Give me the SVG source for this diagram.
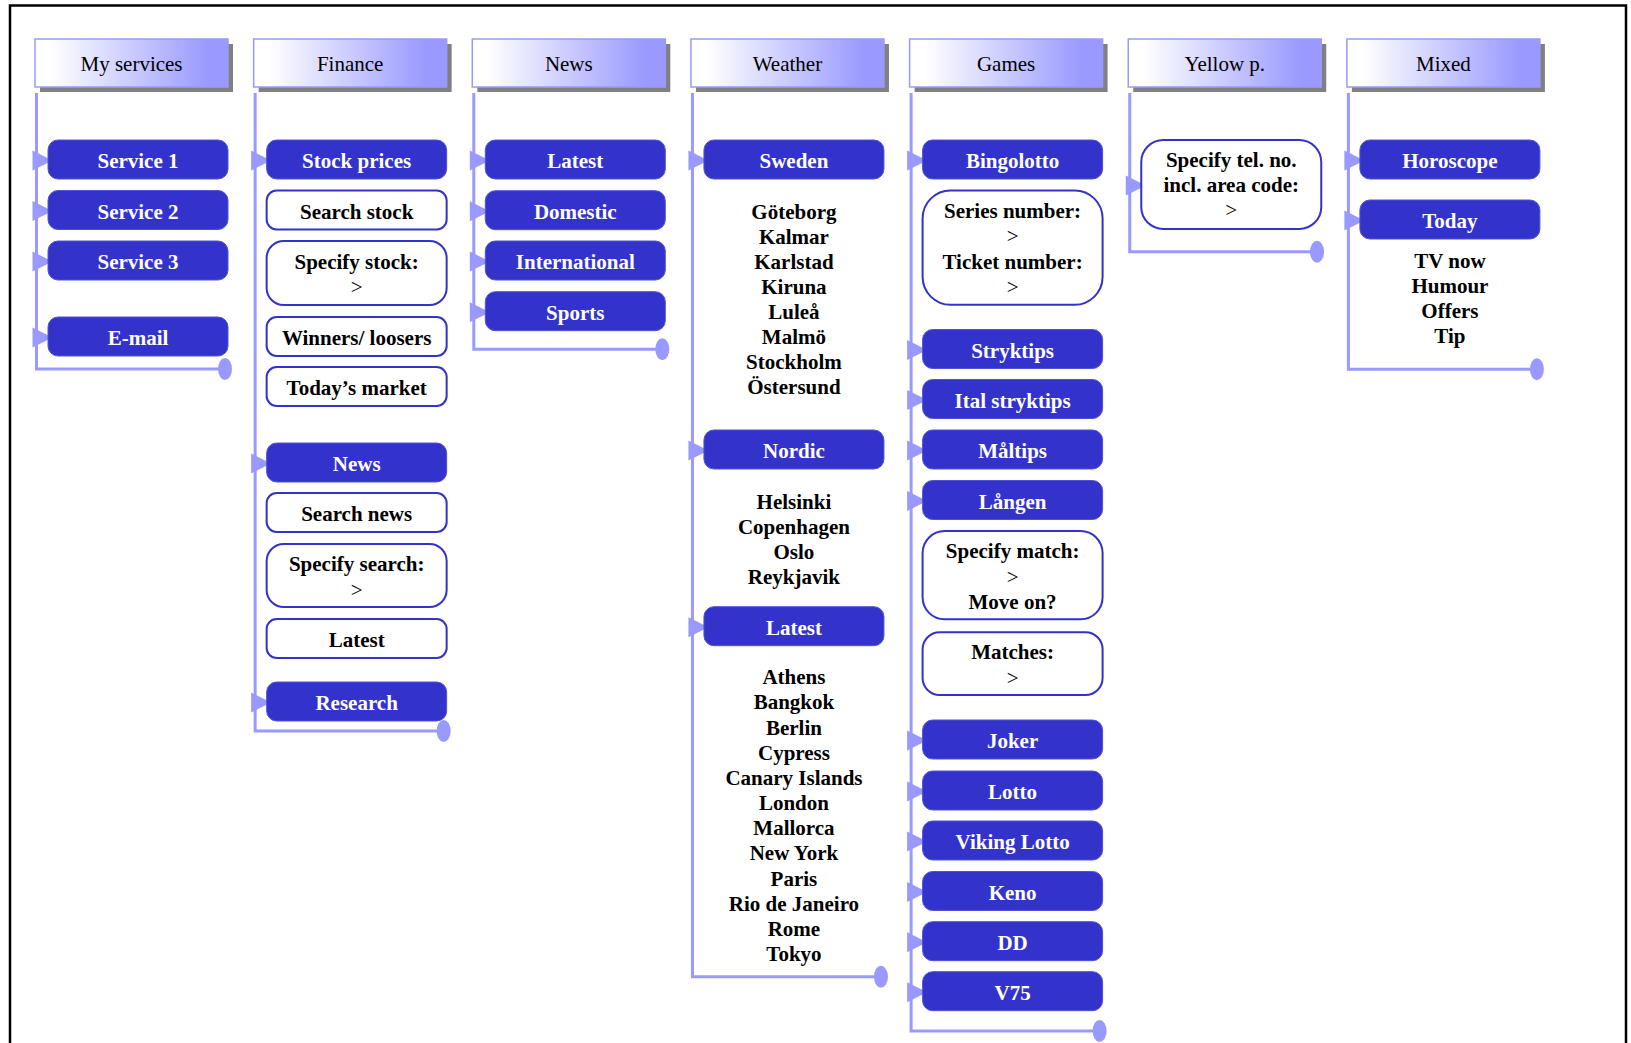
<svg xmlns="http://www.w3.org/2000/svg" width="1631" height="1043" viewBox="0 0 1631 1043">
<defs>
<linearGradient id="hg" x1="0" y1="0" x2="1" y2="0">
<stop offset="0.08" stop-color="#ffffff"/>
<stop offset="0.9" stop-color="#9999ff"/>
</linearGradient>
<marker id="tri" markerUnits="userSpaceOnUse" markerWidth="20" markerHeight="20" refX="20" refY="10" orient="auto" overflow="visible">
<path d="M0,0 L20,10 L0,20 z" fill="#9999ff"/>
</marker>
<marker id="dot" markerUnits="userSpaceOnUse" markerWidth="14" markerHeight="22" refX="7" refY="11" orient="0" overflow="visible">
<ellipse cx="7" cy="11" rx="7" ry="11" fill="#9999ff"/>
</marker>
<style>
.shd{fill:#808080}
.hdr{fill:url(#hg);stroke:#9999ff;stroke-width:1.5}
.ht{font-family:"Liberation Serif","Times New Roman",serif;font-size:21px;text-anchor:middle;fill:#000}
.bf{fill:#3333cc;stroke:#5050d8;stroke-width:1}
.bw{fill:#ffffff;stroke:#3333cc;stroke-width:2}
.t{font-family:"Liberation Serif","Times New Roman",serif;font-size:21px;font-weight:bold;text-anchor:middle}
.tf{fill:#ffffff}
.tw{fill:#000000}
.gt{font-weight:normal}
.ln{stroke:#9999ff;stroke-width:3;fill:none;marker-end:url(#dot)}
.ar{stroke:#9999ff;stroke-width:1.5;fill:none;marker-end:url(#tri)}
</style>
</defs>
<rect x="0" y="0" width="1631" height="1043" fill="#ffffff"/>
<rect x="10" y="5.5" width="1616" height="1100" fill="none" stroke="#000" stroke-width="2.5"/>

<g id="connectors">
<path class="ln" d="M36.5,93 V369 H225"/>
<path class="ln" d="M255.15,93 V731 H443.65"/>
<path class="ln" d="M473.8,93 V349.3 H662.3"/>
<path class="ln" d="M692.45,93 V976.7 H880.95"/>
<path class="ln" d="M911.1,93 V1031 H1099.6"/>
<path class="ln" d="M1129.75,93 V251.7 H1317"/>
<path class="ln" d="M1348.4,93 V369.3 H1536.9"/>
<!-- arrows col0 -->
<path class="ar" d="M36.5,160.5 H52.5"/>
<path class="ar" d="M36.5,211 H52.5"/>
<path class="ar" d="M36.5,261.5 H52.5"/>
<path class="ar" d="M36.5,337.5 H52.5"/>
<!-- col1 -->
<path class="ar" d="M255.15,160.5 H271.15"/>
<path class="ar" d="M255.15,463.5 H271.15"/>
<path class="ar" d="M255.15,702.5 H271.15"/>
<!-- col2 -->
<path class="ar" d="M473.8,160.5 H489.8"/>
<path class="ar" d="M473.8,211.2 H489.8"/>
<path class="ar" d="M473.8,261.5 H489.8"/>
<path class="ar" d="M473.8,312.2 H489.8"/>
<!-- col3 -->
<path class="ar" d="M692.45,160.5 H708.45"/>
<path class="ar" d="M692.45,450.5 H708.45"/>
<path class="ar" d="M692.45,627.2 H708.45"/>
<!-- col4 -->
<path class="ar" d="M911.1,160.5 H927.1"/>
<path class="ar" d="M911.1,350 H927.1"/>
<path class="ar" d="M911.1,400 H927.1"/>
<path class="ar" d="M911.1,450.5 H927.1"/>
<path class="ar" d="M911.1,501 H927.1"/>
<path class="ar" d="M911.1,740.5 H927.1"/>
<path class="ar" d="M911.1,791.5 H927.1"/>
<path class="ar" d="M911.1,841.5 H927.1"/>
<path class="ar" d="M911.1,892 H927.1"/>
<path class="ar" d="M911.1,942.2 H927.1"/>
<path class="ar" d="M911.1,992.2 H927.1"/>
<!-- col5 -->
<path class="ar" d="M1129.75,185.5 H1145.75"/>
<!-- col6 -->
<path class="ar" d="M1348.4,160.5 H1364.4"/>
<path class="ar" d="M1348.4,220.5 H1364.4"/>
</g>

<!-- Headers -->
<g id="hdr-myservices"><rect class="shd" x="40" y="44" width="193" height="48"/><rect class="hdr" x="35" y="39" width="193" height="48"/><text class="ht" x="131.5" y="71">My services</text></g>
<g id="hdr-finance"><rect class="shd" x="258.65" y="44" width="193" height="48"/><rect class="hdr" x="253.65" y="39" width="193" height="48"/><text class="ht" x="350.15" y="71">Finance</text></g>
<g id="hdr-news"><rect class="shd" x="477.3" y="44" width="193" height="48"/><rect class="hdr" x="472.3" y="39" width="193" height="48"/><text class="ht" x="568.8" y="71">News</text></g>
<g id="hdr-weather"><rect class="shd" x="695.95" y="44" width="193" height="48"/><rect class="hdr" x="690.95" y="39" width="193" height="48"/><text class="ht" x="787.45" y="71">Weather</text></g>
<g id="hdr-games"><rect class="shd" x="914.6" y="44" width="193" height="48"/><rect class="hdr" x="909.6" y="39" width="193" height="48"/><text class="ht" x="1006.1" y="71">Games</text></g>
<g id="hdr-yellow"><rect class="shd" x="1133.25" y="44" width="193" height="48"/><rect class="hdr" x="1128.25" y="39" width="193" height="48"/><text class="ht" x="1224.75" y="71">Yellow p.</text></g>
<g id="hdr-mixed"><rect class="shd" x="1351.9" y="44" width="193" height="48"/><rect class="hdr" x="1346.9" y="39" width="193" height="48"/><text class="ht" x="1443.4" y="71">Mixed</text></g>

<!-- My services -->
<g id="service1"><rect class="bf" x="48" y="140" width="180" height="39" rx="10"/><text class="t tf" x="138" y="168">Service 1</text></g>
<g id="service2"><rect class="bf" x="48" y="190.5" width="180" height="39" rx="10"/><text class="t tf" x="138" y="218.5">Service 2</text></g>
<g id="service3"><rect class="bf" x="48" y="241" width="180" height="39" rx="10"/><text class="t tf" x="138" y="269">Service 3</text></g>
<g id="email"><rect class="bf" x="48" y="317" width="180" height="39" rx="10"/><text class="t tf" x="138" y="345">E-mail</text></g>

<!-- Finance -->
<g id="stockprices"><rect class="bf" x="266.65" y="140" width="180" height="39" rx="10"/><text class="t tf" x="356.65" y="168">Stock prices</text></g>
<g id="searchstock"><rect class="bw" x="266.65" y="190.5" width="180" height="39" rx="10"/><text class="t tw" x="356.65" y="218.5">Search stock</text></g>
<g id="specifystock"><rect class="bw" x="266.65" y="241" width="180" height="64" rx="17"/><text class="t tw" x="356.65" y="268.75">Specify stock:</text><text class="t tw gt" x="356.65" y="294.25">&gt;</text></g>
<g id="winners"><rect class="bw" x="266.65" y="317" width="180" height="39" rx="10"/><text class="t tw" x="356.65" y="345">Winners/ loosers</text></g>
<g id="todaysmarket"><rect class="bw" x="266.65" y="367" width="180" height="39" rx="10"/><text class="t tw" x="356.65" y="395">Today’s market</text></g>
<g id="fin-news"><rect class="bf" x="266.65" y="443" width="180" height="39" rx="10"/><text class="t tf" x="356.65" y="471">News</text></g>
<g id="searchnews"><rect class="bw" x="266.65" y="493" width="180" height="39" rx="10"/><text class="t tw" x="356.65" y="521">Search news</text></g>
<g id="specifysearch"><rect class="bw" x="266.65" y="544" width="180" height="63" rx="17"/><text class="t tw" x="356.65" y="571">Specify search:</text><text class="t tw gt" x="356.65" y="596.5">&gt;</text></g>
<g id="fin-latest"><rect class="bw" x="266.65" y="619" width="180" height="39" rx="10"/><text class="t tw" x="356.65" y="647">Latest</text></g>
<g id="research"><rect class="bf" x="266.65" y="682" width="180" height="39" rx="10"/><text class="t tf" x="356.65" y="710">Research</text></g>

<!-- News -->
<g id="news-latest"><rect class="bf" x="485.3" y="140" width="180" height="39" rx="10"/><text class="t tf" x="575.3" y="168">Latest</text></g>
<g id="domestic"><rect class="bf" x="485.3" y="190.7" width="180" height="39" rx="10"/><text class="t tf" x="575.3" y="218.7">Domestic</text></g>
<g id="international"><rect class="bf" x="485.3" y="241" width="180" height="39" rx="10"/><text class="t tf" x="575.3" y="269">International</text></g>
<g id="sports"><rect class="bf" x="485.3" y="291.7" width="180" height="39" rx="10"/><text class="t tf" x="575.3" y="319.7">Sports</text></g>

<!-- Weather -->
<g id="sweden"><rect class="bf" x="703.95" y="140" width="180" height="39" rx="10"/><text class="t tf" x="793.95" y="168">Sweden</text></g>
<g id="sweden-list" class="t tw">
<text x="793.95" y="219">Göteborg</text>
<text x="793.95" y="244">Kalmar</text>
<text x="793.95" y="269">Karlstad</text>
<text x="793.95" y="294">Kiruna</text>
<text x="793.95" y="319">Luleå</text>
<text x="793.95" y="344">Malmö</text>
<text x="793.95" y="369">Stockholm</text>
<text x="793.95" y="394">Östersund</text>
</g>
<g id="nordic"><rect class="bf" x="703.95" y="430" width="180" height="39" rx="10"/><text class="t tf" x="793.95" y="458">Nordic</text></g>
<g id="nordic-list" class="t tw">
<text x="793.95" y="508.5">Helsinki</text>
<text x="793.95" y="533.5">Copenhagen</text>
<text x="793.95" y="558.5">Oslo</text>
<text x="793.95" y="583.5">Reykjavik</text>
</g>
<g id="weather-latest"><rect class="bf" x="703.95" y="606.7" width="180" height="39" rx="10"/><text class="t tf" x="793.95" y="634.7">Latest</text></g>
<g id="latest-list" class="t tw">
<text x="793.95" y="684.3">Athens</text>
<text x="793.95" y="709.45">Bangkok</text>
<text x="793.95" y="734.6">Berlin</text>
<text x="793.95" y="759.75">Cypress</text>
<text x="793.95" y="784.9">Canary Islands</text>
<text x="793.95" y="810.05">London</text>
<text x="793.95" y="835.2">Mallorca</text>
<text x="793.95" y="860.35">New York</text>
<text x="793.95" y="885.5">Paris</text>
<text x="793.95" y="910.65">Rio de Janeiro</text>
<text x="793.95" y="935.8">Rome</text>
<text x="793.95" y="960.95">Tokyo</text>
</g>

<!-- Games -->
<g id="bingolotto"><rect class="bf" x="922.6" y="140" width="180" height="39" rx="10"/><text class="t tf" x="1012.6" y="168">Bingolotto</text></g>
<g id="series"><rect class="bw" x="922.6" y="190.4" width="180" height="114.4" rx="28"/><text class="t tw" x="1012.6" y="217.85">Series number:</text><text class="t tw gt" x="1012.6" y="243.35">&gt;</text><text class="t tw" x="1012.6" y="268.85">Ticket number:</text><text class="t tw gt" x="1012.6" y="294.35">&gt;</text></g>
<g id="stryktips"><rect class="bf" x="922.6" y="329.5" width="180" height="39" rx="10"/><text class="t tf" x="1012.6" y="357.5">Stryktips</text></g>
<g id="italstryktips"><rect class="bf" x="922.6" y="379.5" width="180" height="39" rx="10"/><text class="t tf" x="1012.6" y="407.5">Ital stryktips</text></g>
<g id="maltips"><rect class="bf" x="922.6" y="430" width="180" height="39" rx="10"/><text class="t tf" x="1012.6" y="458">Måltips</text></g>
<g id="langen"><rect class="bf" x="922.6" y="480.5" width="180" height="39" rx="10"/><text class="t tf" x="1012.6" y="508.5">Lången</text></g>
<g id="specifymatch"><rect class="bw" x="922.6" y="531" width="180" height="88.3" rx="22"/><text class="t tw" x="1012.6" y="558.3">Specify match:</text><text class="t tw gt" x="1012.6" y="583.8">&gt;</text><text class="t tw" x="1012.6" y="609.3">Move on?</text></g>
<g id="matches"><rect class="bw" x="922.6" y="632.3" width="180" height="62.7" rx="17"/><text class="t tw" x="1012.6" y="659.3">Matches:</text><text class="t tw gt" x="1012.6" y="684.8">&gt;</text></g>
<g id="joker"><rect class="bf" x="922.6" y="720" width="180" height="39" rx="10"/><text class="t tf" x="1012.6" y="748">Joker</text></g>
<g id="lotto"><rect class="bf" x="922.6" y="771" width="180" height="39" rx="10"/><text class="t tf" x="1012.6" y="799">Lotto</text></g>
<g id="vikinglotto"><rect class="bf" x="922.6" y="821" width="180" height="39" rx="10"/><text class="t tf" x="1012.6" y="849">Viking Lotto</text></g>
<g id="keno"><rect class="bf" x="922.6" y="871.5" width="180" height="39" rx="10"/><text class="t tf" x="1012.6" y="899.5">Keno</text></g>
<g id="dd"><rect class="bf" x="922.6" y="921.7" width="180" height="39" rx="10"/><text class="t tf" x="1012.6" y="949.7">DD</text></g>
<g id="v75"><rect class="bf" x="922.6" y="971.7" width="180" height="39" rx="10"/><text class="t tf" x="1012.6" y="999.7">V75</text></g>

<!-- Yellow p. -->
<g id="specifytel"><rect class="bw" x="1141.25" y="140" width="180" height="89" rx="22"/><text class="t tw" x="1231.25" y="167.3">Specify tel. no.</text><text class="t tw" x="1231.25" y="192.3">incl. area code:</text><text class="t tw gt" x="1231.25" y="217.3">&gt;</text></g>

<!-- Mixed -->
<g id="horoscope"><rect class="bf" x="1359.9" y="140" width="180" height="39" rx="10"/><text class="t tf" x="1449.9" y="168">Horoscope</text></g>
<g id="today"><rect class="bf" x="1359.9" y="200" width="180" height="39" rx="10"/><text class="t tf" x="1449.9" y="228">Today</text></g>
<g id="today-list" class="t tw">
<text x="1449.9" y="268.3">TV now</text>
<text x="1449.9" y="293.3">Humour</text>
<text x="1449.9" y="318.3">Offers</text>
<text x="1449.9" y="343.3">Tip</text>
</g>
</svg>
